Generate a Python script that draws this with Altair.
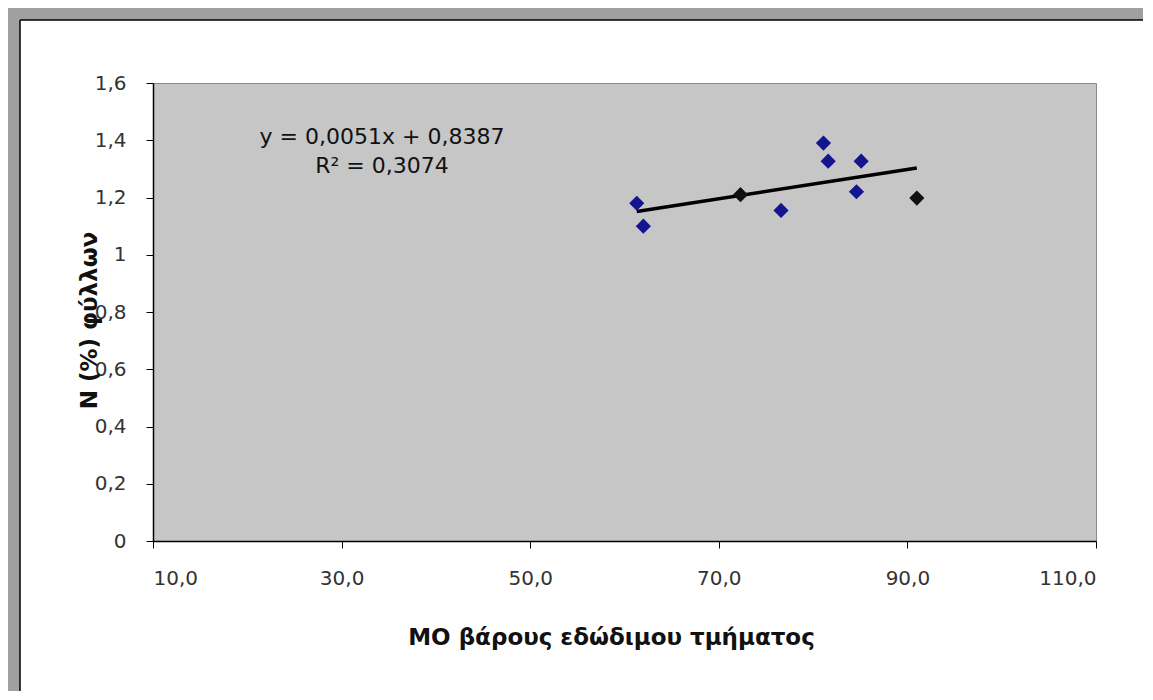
import altair as alt
import pandas as pd

# Data
x_vals = [61.3, 62.0, 72.3, 76.6, 81.1, 81.6, 85.1, 84.6, 91.0]
y_vals = [1.18, 1.10, 1.21, 1.155, 1.39, 1.327, 1.327, 1.22, 1.198]
series = ["a", "a", "b", "a", "a", "a", "a", "a", "b"]

slope = 0.0051
intercept = 0.8387
eq_text = "y = 0,0051x  + 0,8387"
r2_text = "R² = 0,3074"

x_ticks = [10, 30, 50, 70, 90, 110]
y_ticks = [0, 0.2, 0.4, 0.6, 0.8, 1.0, 1.2, 1.4, 1.6]

x_title = "ΜΟ βάρους εδώδιμου τμήματος"
y_title = "N (%) φύλλων"

df = pd.DataFrame({"x": x_vals, "y": y_vals, "s": series})

FONT = "DejaVu Sans"
W, H = 943, 458

xs = alt.Scale(domain=[10, 110], nice=False, zero=False)
ys = alt.Scale(domain=[0, 1.6], nice=False)

base = alt.Chart(df)

points = base.mark_point(shape="diamond", filled=True, size=230, opacity=1).encode(
    x=alt.X("x:Q", scale=xs, axis=alt.Axis(
        values=x_ticks, title=x_title,
        labelExpr="replace(format(datum.value, '.1f'), '.', ',')",
        titleX=458, titleY=96, titleBaseline="middle", titleAlign="center",
        titleFontSize=23, titleFontWeight="bold", labelPadding=20,
        grid=False)),
    y=alt.Y("y:Q", scale=ys, axis=alt.Axis(
        values=y_ticks, title=y_title,
        labelExpr="replace(format(datum.value, '~g'), '.', ',')",
        titleX=-64, titleY=237, titleAngle=-90, titleBaseline="middle", titleAlign="center",
        titleFontSize=23, titleFontWeight="bold", labelPadding=20,
        grid=False)),
    color=alt.Color("s:N", scale=alt.Scale(domain=["a", "b"], range=["#14148e", "#111111"]), legend=None),
)

trend = base.transform_aggregate(
    xmin="min(x)", xmax="max(x)"
).transform_fold(["xmin", "xmax"], as_=["k", "xv"]).transform_calculate(
    yv=f"{slope}*datum.xv + {intercept}"
).mark_line(color="black", strokeWidth=3.5).encode(
    x=alt.X("xv:Q", scale=xs),
    y=alt.Y("yv:Q", scale=ys),
)

eq = alt.Chart(pd.DataFrame({"t": [eq_text]})).mark_text(
    font=FONT, fontSize=22, color="#111", align="center", baseline="middle"
).encode(text="t:N", x=alt.value(229), y=alt.value(54))

r2 = alt.Chart(pd.DataFrame({"t": [r2_text]})).mark_text(
    font=FONT, fontSize=22, color="#111", align="center", baseline="middle"
).encode(text="t:N", x=alt.value(229), y=alt.value(83))

# decorative frame (top and left gray band, thin black border)
frame_top = alt.Chart(pd.DataFrame({"a": [0]})).mark_rect(color="#a0a0a0").encode(
    x=alt.value(-145), x2=alt.value(990), y=alt.value(-75), y2=alt.value(-63))
frame_left = alt.Chart(pd.DataFrame({"a": [0]})).mark_rect(color="#a0a0a0").encode(
    x=alt.value(-145), x2=alt.value(-133), y=alt.value(-75), y2=alt.value(620))
border_top = alt.Chart(pd.DataFrame({"a": [0]})).mark_rule(color="black", strokeWidth=1.5).encode(
    x=alt.value(-133), x2=alt.value(1000), y=alt.value(-63))
border_left = alt.Chart(pd.DataFrame({"a": [0]})).mark_rule(color="black", strokeWidth=1.5).encode(
    x=alt.value(-133), y=alt.value(-63), y2=alt.value(620))

chart = alt.layer(
    frame_top, frame_left, border_top, border_left, trend, points, eq, r2
).properties(
    width=W, height=H,
    autosize=alt.AutoSizeParams(type="none"),
    padding={"left": 145, "top": 75, "right": 47, "bottom": 150},
    background="white",
).configure_view(
    fill="#c6c6c6", stroke="#8a8a8a", strokeWidth=1
).configure_axis(
    domainColor="black", domainWidth=1.5, tickColor="black", tickSize=7,
    labelFont=FONT, labelFontSize=20, labelColor="#333",
    titleFont=FONT, titleColor="#111",
)

chart.save("out.html", embed_options={"renderer": "svg", "actions": False})
